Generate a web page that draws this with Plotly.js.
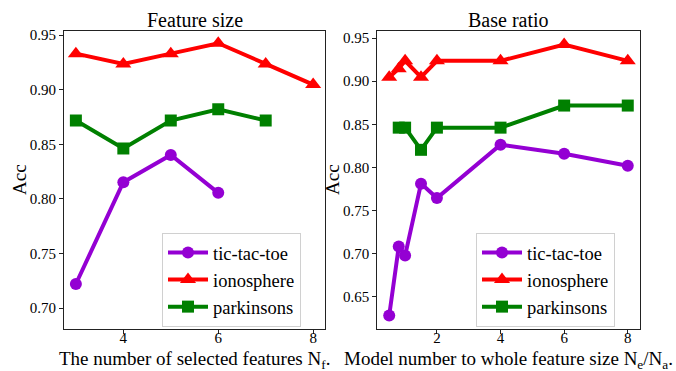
<!DOCTYPE html>
<html><head><meta charset="utf-8">
<script src="https://cdn.plot.ly/plotly-3.0.1.min.js"></script>
<style>html,body{margin:0;padding:0;background:#fff}#chart{width:676px;height:371px}</style>
</head><body><div id="chart"></div>
<script>
// Left panel: Feature size
const featX = [3, 4, 5, 6, 7, 8];
const featTic = [0.7222, 0.8153, 0.8403, 0.8056];
const featIono = [0.9330, 0.9236, 0.9330, 0.9425, 0.9236, 0.9047];
const featPark = [0.8718, 0.8462, 0.8718, 0.8821, 0.8718];
// Right panel: Base ratio
const ratioX = [0.5, 0.8, 1, 1.5, 2, 4, 6, 8];
const ratioParkX = [0.8, 1, 1.5, 2, 4, 6, 8];
const ratioTic = [0.6285, 0.7083, 0.6979, 0.7813, 0.7646, 0.8264, 0.8160, 0.8021];
const ratioIono = [0.9047, 0.9145, 0.9236, 0.9047, 0.9236, 0.9236, 0.9425, 0.9236];
const ratioPark = [0.8462, 0.8462, 0.8205, 0.8462, 0.8462, 0.8718, 0.8718];
const seriesNames = ['tic-tac-toe', 'ionosphere', 'parkinsons'];
const leftTicks = [0.70, 0.75, 0.80, 0.85, 0.90, 0.95];
const rightTicks = [0.65, 0.70, 0.75, 0.80, 0.85, 0.90, 0.95];
const leftXTicks = [4, 6, 8];
const rightXTicks = [2, 4, 6, 8];

const FONT = 'Liberation Serif, serif';
const colors = ['#9400D3', '#FF0000', '#008000'];
const symbols = ['circle', 'triangle-up', 'square'];
const msize = [12, 14, 12];

function tr(x, y, i, xa, ya, lg) {
  return {x: x, y: y, name: seriesNames[i], type: 'scatter', mode: 'lines+markers',
    xaxis: xa, yaxis: ya, legend: lg, cliponaxis: false,
    line: {color: colors[i], width: 4},
    marker: {color: colors[i], symbol: symbols[i], size: msize[i]}};
}
const data = [
  tr(featX.slice(0, featTic.length), featTic, 0, 'x', 'y', 'legend'),
  tr(featX, featIono, 1, 'x', 'y', 'legend'),
  tr(featX.slice(0, featPark.length), featPark, 2, 'x', 'y', 'legend'),
  tr(ratioX, ratioTic, 0, 'x2', 'y2', 'legend2'),
  tr(ratioX, ratioIono, 1, 'x2', 'y2', 'legend2'),
  tr(ratioParkX, ratioPark, 2, 'x2', 'y2', 'legend2'),
];

function ax(extra) {
  return Object.assign({showline: true, mirror: true, linecolor: '#222', linewidth: 1.2,
    ticks: 'outside', ticklen: 4, tickwidth: 1, tickcolor: '#222',
    showgrid: false, zeroline: false, tickfont: {family: FONT, size: 15, color: '#000'}}, extra);
}
function leg(extra) {
  return Object.assign({bgcolor: 'rgba(255,255,255,0.9)', bordercolor: '#d0d0d0', borderwidth: 1,
    font: {family: FONT, size: 18.5, color: '#000'}, xanchor: 'left', yanchor: 'top',
    tracegroupgap: 0, itemwidth: 40}, extra);
}
function ann(text, x, y, size, angle) {
  return {text: text, x: x / 676, y: 1 - y / 371, xref: 'paper', yref: 'paper',
    showarrow: false, xanchor: 'center', yanchor: 'middle', textangle: angle || 0,
    font: {family: FONT, size: size, color: '#000'}};
}

const layout = {
  width: 676, height: 371,
  margin: {l: 0, r: 0, t: 0, b: 0},
  paper_bgcolor: '#fff', plot_bgcolor: '#fff',
  font: {family: FONT, color: '#000', size: 15},
  showlegend: true,
  xaxis: ax({domain: [0.0947, 0.4808], range: [2.75, 8.25], tickvals: leftXTicks, anchor: 'y', ticklabelstandoff: -9}),
  yaxis: ax({domain: [0.1132, 0.9164], range: [0.681, 0.9537], tickvals: leftTicks, tickformat: '.2f', anchor: 'x'}),
  xaxis2: ax({domain: [0.5581, 0.9463], range: [0.125, 8.375], tickvals: rightXTicks, anchor: 'y2', ticklabelstandoff: -9}),
  yaxis2: ax({domain: [0.1132, 0.9164], range: [0.6128, 0.9582], tickvals: rightTicks, tickformat: '.2f', anchor: 'x2'}),
  legend: leg({x: 162 / 676, y: 1 - 233 / 371}),
  legend2: leg({x: 476 / 676, y: 1 - 233 / 371}),
  annotations: [
    ann('Feature size', 194.5, 20, 20),
    ann('Base ratio', 508.5, 20, 20),
    ann('The number of selected features N<sub>f</sub>.', 194.5, 360, 19),
    ann('Model number to whole feature size N<sub>e</sub>/N<sub>a</sub>.', 508.5, 360, 19),
    ann('Acc', 19, 180, 19, -90),
    ann('Acc', 332, 180, 19, -90),
  ],
};
Plotly.newPlot('chart', data, layout, {displayModeBar: false});
</script></body></html>
